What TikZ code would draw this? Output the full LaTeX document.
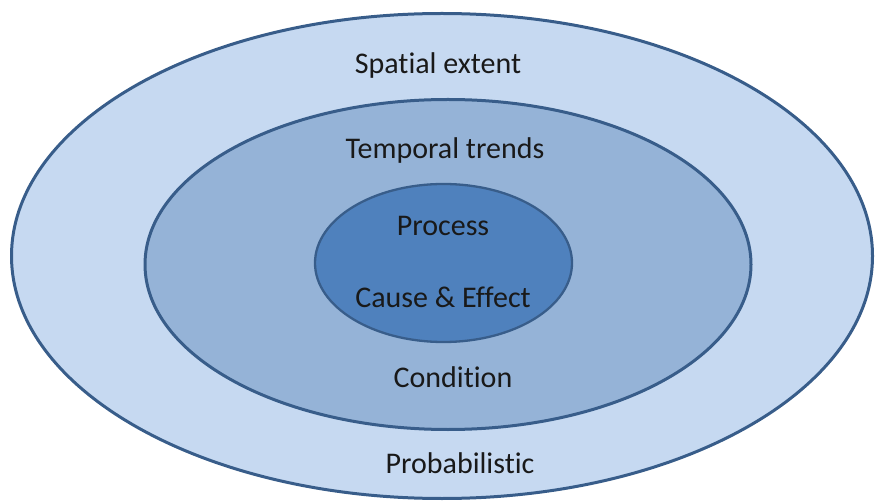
\documentclass[tikz,border=0pt]{standalone}
\usepackage{fontspec}
\setmainfont{Carlito}[Ligatures=CommonOff]
\usetikzlibrary{shapes.geometric}
\definecolor{outerfill}{HTML}{C6D9F1}
\definecolor{midfill}{HTML}{95B3D7}
\definecolor{innerfill}{HTML}{4F81BD}
\definecolor{edgeblue}{HTML}{385D8A}
\tikzset{
  ring/.style={ellipse, draw=edgeblue, inner sep=0pt, line width=3pt},
  lbl/.style={anchor=base, inner sep=0pt, text=black!90, font=\fontsize{30}{35}\selectfont}
}
\begin{document}
\begin{tikzpicture}[x=1pt,y=-1pt]
\useasboundingbox (0,0) rectangle (875,502);
\node[ring, fill=outerfill, minimum width=861pt, minimum height=485pt] (outer) at (442,256) {};
\node[ring, fill=midfill, minimum width=606pt, minimum height=330pt] (mid) at (448,264.5) {};
\node[ring, fill=innerfill, line width=2.3pt, minimum width=257pt, minimum height=158pt] (inner) at (443.5,263) {};
\node[lbl] (spatial) at (438,74) {Spatial extent};
\node[lbl] (temporal) at (445,159) {Temporal trends};
\node[lbl] (process) at (443,236) {Process};
\node[lbl] (cause) at (443,308) {Cause \& Effect};
\node[lbl] (condition) at (453,387) {Condition};
\node[lbl] (prob) at (460,473) {Probabilistic};
\end{tikzpicture}
\end{document}
